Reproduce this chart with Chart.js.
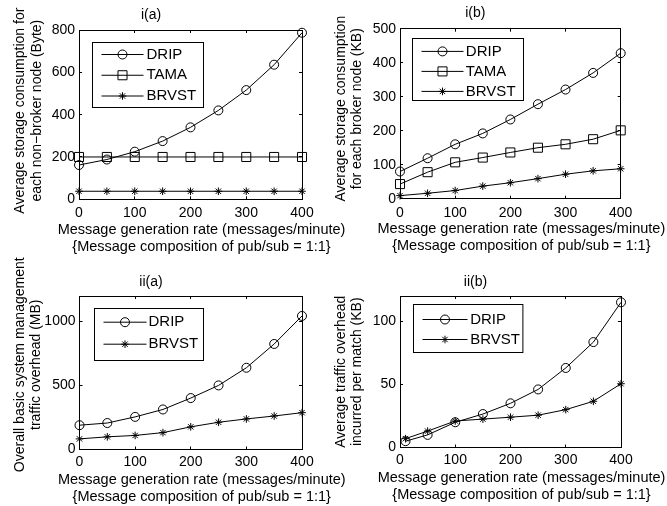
<!DOCTYPE html>
<html><head><meta charset="utf-8">
<script src="https://cdn.jsdelivr.net/npm/chart.js@4.4.0/dist/chart.umd.min.js"></script>
<style>
html,body{margin:0;padding:0;background:#fff;}
#wrap{position:relative;width:667px;height:506px;overflow:hidden;background:#fff;}
canvas{position:absolute;}
</style></head><body>
<div id="wrap">
<canvas id="cA" width="360" height="260" style="left:0px;top:0px"></canvas>
<canvas id="cB" width="337" height="260" style="left:330px;top:0px"></canvas>
<canvas id="cC" width="360" height="253" style="left:0px;top:253px"></canvas>
<canvas id="cD" width="337" height="253" style="left:330px;top:253px"></canvas>
</div>
<script>
// ---------- data ----------
const rate  = [0, 50, 100, 150, 200, 250, 300, 350, 400];
const rateD = [10, 50, 100, 150, 200, 250, 300, 350, 400];

const dripA  = [162, 188, 225, 275, 340, 420, 516, 636, 787];
const tamaA  = [200, 200, 200, 200, 200, 200, 200, 200, 200];
const brvstA = [38, 38, 38, 38, 38, 38, 38, 38, 38];

const dripB  = [80, 119, 160, 192, 233, 278, 321, 370, 428];
const tamaB  = [43, 78, 107, 121, 136, 150, 160, 175, 201];
const brvstB = [9, 16, 24, 37, 47, 59, 72, 82, 88];

const dripC  = [190, 207, 255, 313, 402, 501, 639, 825, 1044];
const brvstC = [83, 99, 110, 132, 177, 213, 239, 262, 288];

const dripD  = [5, 10, 20, 26.5, 35, 46, 63, 83.5, 115];
const brvstD = [7, 13, 21, 22.5, 24, 25.6, 30, 36.6, 50.5];

const xTicks  = [0, 100, 200, 300, 400];
const yTicksA = [0, 200, 400, 600, 800];
const yTicksB = [0, 100, 200, 300, 400, 500];
const yTicksC = [0, 500, 1000];
const yTicksD = [0, 50, 100];

const xTitle = ['Message generation rate (messages/minute)', '{Message composition of pub/sub = 1:1}'];

// ---------- styling ----------
const FAMILY = '"Liberation Sans", Arial, Helvetica, sans-serif';
Chart.defaults.font.family = FAMILY;
Chart.defaults.font.size = 14;
Chart.defaults.color = '#000';

const markers = {
  DRIP:  {pointStyle: 'circle', pointRadius: 4.5},
  TAMA:  {pointStyle: 'rect',   pointRadius: 6.4},
  BRVST: {pointStyle: 'star',   pointRadius: 3.8}
};

// boxed legend in the style of the original (line + marker + label)
const boxLegend = {
  id: 'boxLegend',
  afterDraw(chart, args, o) {
    if (!o || o.w === undefined) return;
    const ctx = chart.ctx;
    const ca = chart.chartArea;
    const bx = Math.round(ca.left + o.x) + 0.5, by = Math.round(ca.top + o.y) + 0.5;
    ctx.save();
    ctx.fillStyle = '#fff';
    ctx.fillRect(bx, by, o.w, o.h);
    ctx.strokeStyle = '#000';
    ctx.lineWidth = 1;
    ctx.strokeRect(bx, by, o.w, o.h);
    ctx.font = o.size + 'px ' + FAMILY;
    ctx.textBaseline = 'middle';
    ctx.textAlign = 'left';
    chart.data.datasets.forEach((ds, i) => {
      const cy = by + o.row0 + i * o.gap;
      const x0 = bx + o.lineX, x1 = x0 + o.lineLen;
      ctx.strokeStyle = '#000';
      ctx.lineWidth = 1;
      ctx.beginPath(); ctx.moveTo(x0, cy); ctx.lineTo(x1, cy); ctx.stroke();
      ctx.fillStyle = 'rgba(0,0,0,0)';
      Chart.helpers.drawPoint(ctx, {pointStyle: ds.pointStyle, radius: ds.pointRadius, borderWidth: 1, rotation: 0}, (x0 + x1) / 2, cy);
      ctx.fillStyle = '#000';
      ctx.fillText(ds.label, bx + o.textX, cy);
    });
    ctx.restore();
  }
};

// axis titles (drawn without Chart.js' maxWidth squeezing)
const axisTitles = {
  id: 'axisTitles',
  afterDraw(chart, args, o) {
    if (!o || !o.xText) return;
    const ctx = chart.ctx, ca = chart.chartArea;
    ctx.save();
    ctx.fillStyle = '#000';
    ctx.textAlign = 'center';
    ctx.textBaseline = 'middle';
    ctx.font = o.xSize + 'px ' + FAMILY;
    const cx = (ca.left + ca.right) / 2 + o.xDx;
    o.xText.forEach((t, i) => ctx.fillText(t, cx, ca.bottom + o.xDy + i * o.xLh));
    ctx.font = o.ySize + 'px ' + FAMILY;
    ctx.translate(o.yX, (ca.top + ca.bottom) / 2 + o.yDy);
    ctx.rotate(-Math.PI / 2);
    o.yText.forEach((t, i) => ctx.fillText(t, 0, i * o.yLh));
    ctx.restore();
  }
};

function makeChart(id, c) {
  const tickSet = arr => (s) => { s.ticks = arr.map(v => ({value: v})); };
  const grid = {drawOnChartArea: false, drawTicks: true, tickLength: -3, color: '#000', tickColor: '#000', lineWidth: 1};
  const border = {display: true, color: '#000', width: 1};
  const datasets = c.series.map(s => Object.assign({
    label: s.label,
    data: c.xs.map((x, i) => ({x: x, y: s.data[i]})),
    borderColor: '#000',
    borderWidth: 1,
    pointBorderColor: '#000',
    pointBackgroundColor: 'rgba(0,0,0,0)',
    pointBorderWidth: 1,
    tension: 0,
    clip: 12,
    xAxisID: 'x', yAxisID: 'y'
  }, markers[s.label]));
  return new Chart(document.getElementById(id), {
    type: 'line',
    data: {datasets},
    options: {
      responsive: false,
      animation: false,
      events: [],
      layout: {padding: {left: 0, top: 0, right: c.W - c.r, bottom: 0}},
      plugins: {
        legend: {display: false},
        tooltip: {enabled: false},
        title: {display: true, text: c.title, color: '#000',
                font: {size: 14, weight: 'normal', lineHeight: 1.2},
                padding: {top: c.titlePt, bottom: c.t - c.titlePt - 16.8}},
        boxLegend: c.legend,
        axisTitles: {xText: xTitle, xSize: 14.5, xDx: 11, xDy: 30.4, xLh: 17,
                     yText: c.yTitle, ySize: 14, yX: c.yX, yDy: c.yDy, yLh: 16.3}
      },
      scales: {
        x: {type: 'linear', position: 'bottom', min: 0, max: 400,
            afterBuildTicks: tickSet(xTicks),
            ticks: {padding: c.xTickPad, color: '#000', maxRotation: 0, autoSkip: false, callback: v => String(v)},
            grid, border,
            title: {display: false},
            afterFit: s => { s.height = c.H - c.b; }},
        x2: {type: 'linear', position: 'top', min: 0, max: 400,
            afterBuildTicks: tickSet(xTicks),
            ticks: {display: false}, grid, border,
            afterFit: s => { s.height = 0; }},
        y: {type: 'linear', position: 'left', min: 0, max: c.yMax,
            afterBuildTicks: tickSet(c.yTicks),
            ticks: {padding: 7, color: '#000', autoSkip: false, callback: v => String(v)},
            grid, border,
            title: {display: false},
            afterFit: s => { s.width = c.l; }},
        y2: {type: 'linear', position: 'right', min: 0, max: c.yMax,
            afterBuildTicks: tickSet(c.yTicks),
            ticks: {display: false}, grid, border,
            afterFit: s => { s.width = 0; }}
      }
    },
    plugins: [boxLegend, axisTitles]
  });
}

makeChart('cA', {
  W: 360, H: 260, l: 79, r: 302, t: 30, b: 199.3,
  title: 'i(a)', titlePt: 6.6, xTickPad: 8.6,
  yX: 20.5, yDy: -4,
  yMax: 800, yTicks: yTicksA,
  yTitle: ['Average storage consumption for', 'each non\u2212broker node (Byte)'],
  xs: rate,
  series: [{label: 'DRIP', data: dripA}, {label: 'TAMA', data: tamaA}, {label: 'BRVST', data: brvstA}],
  legend: {x: 13, y: 12, w: 111, h: 65, row0: 12, gap: 20.75, lineX: 9, lineLen: 42, textX: 54, size: 15}
});

makeChart('cB', {
  W: 337, H: 260, l: 70, r: 290.7, t: 28.7, b: 198.7,
  title: 'i(b)', titlePt: 4.9, xTickPad: 9.2,
  yX: 10.7, yDy: -5,
  yMax: 500, yTicks: yTicksB,
  yTitle: ['Average storage consumption', 'for each broker node (KB)'],
  xs: rate,
  series: [{label: 'DRIP', data: dripB}, {label: 'TAMA', data: tamaB}, {label: 'BRVST', data: brvstB}],
  legend: {x: 11.7, y: 9.6, w: 111, h: 62, row0: 12.9, gap: 20, lineX: 9, lineLen: 42, textX: 53.3, size: 15}
});

makeChart('cC', {
  W: 360, H: 253, l: 79.5, r: 302, t: 43, b: 196.5,
  title: 'ii(a)', titlePt: 20.3, xTickPad: 6.8,
  yX: 19.7, yDy: -8,
  yMax: 1200, yTicks: yTicksC,
  yTitle: ['Overall basic system management', 'traffic overhead (MB)'],
  xs: rate,
  series: [{label: 'DRIP', data: dripC}, {label: 'BRVST', data: brvstC}],
  legend: {x: 14.8, y: 12.3, w: 109, h: 52, row0: 13.7, gap: 22, lineX: 9, lineLen: 43, textX: 54, size: 15}
});

makeChart('cD', {
  W: 337, H: 253, l: 70, r: 291, t: 43, b: 194.5,
  title: 'ii(b)', titlePt: 20.3, xTickPad: 7.1,
  yX: 10.7, yDy: 0,
  yMax: 120, yTicks: yTicksD,
  yTitle: ['Average traffic overhead', 'incurred per match (KB)'],
  xs: rateD,
  series: [{label: 'DRIP', data: dripD}, {label: 'BRVST', data: brvstD}],
  legend: {x: 13.3, y: 8, w: 109.4, h: 48, row0: 15, gap: 20, lineX: 9, lineLen: 45, textX: 56.7, size: 15}
});
</script>
</body></html>
